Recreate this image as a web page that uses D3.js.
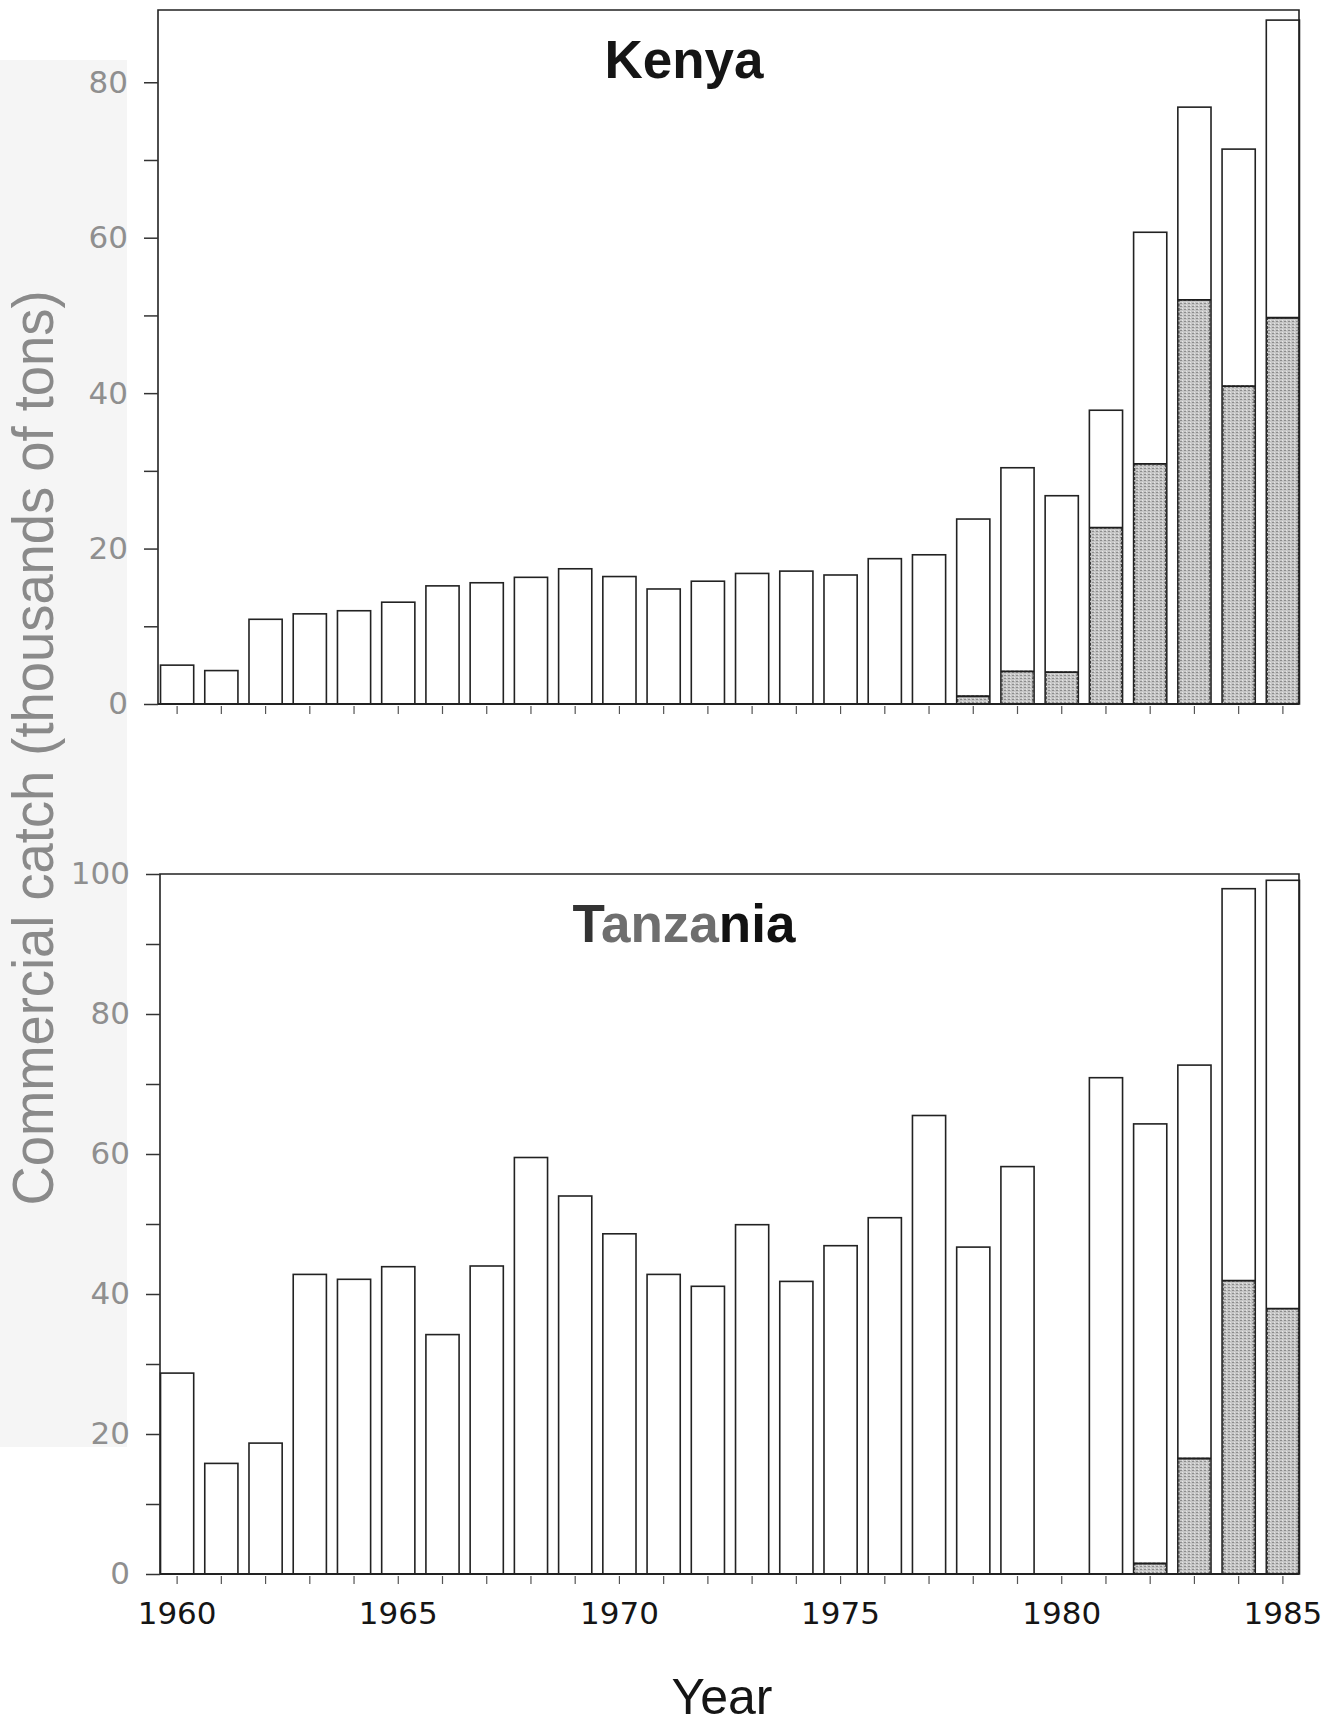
<!DOCTYPE html>
<html>
<head>
<meta charset="utf-8">
<script src="https://cdn.jsdelivr.net/npm/d3@7"></script>
<style>
body { margin: 0; background: #fff; }
svg { display: block; }
</style>
</head>
<body>
<div id="chart"></div>
<script>
// values, thousands of tons
var years = [1960, 1961, 1962, 1963, 1964, 1965, 1966, 1967, 1968, 1969, 1970, 1971, 1972,
	1973, 1974, 1975, 1976, 1977, 1978, 1979, 1980, 1981, 1982, 1983, 1984, 1985];
var kenyaTotal = [5.0, 4.3, 10.9, 11.6, 12.0, 13.1, 15.2, 15.6, 16.3, 17.4, 16.4, 14.8, 15.8,
	16.8, 17.1, 16.6, 18.7, 19.2, 23.8, 30.4, 26.8, 37.8, 60.7, 76.8, 71.4, 88.0];
var kenyaShaded = [0, 0, 0, 0, 0, 0, 0, 0, 0, 0, 0, 0, 0,
	0, 0, 0, 0, 0, 1.0, 4.2, 4.1, 22.7, 30.9, 52.0, 40.9, 49.7];
var tanzaniaTotal = [28.7, 15.8, 18.7, 42.8, 42.1, 43.9, 34.2, 44.0, 59.5, 54.0, 48.6, 42.8, 41.1,
	49.9, 41.8, 46.9, 50.9, 65.5, 46.7, 58.2, 0, 70.9, 64.3, 72.7, 97.9, 99.1];
var tanzaniaShaded = [0, 0, 0, 0, 0, 0, 0, 0, 0, 0, 0, 0, 0,
	0, 0, 0, 0, 0, 0, 0, 0, 0, 1.5, 16.5, 41.9, 37.9];
var kenyaTicks = [0, 10, 20, 30, 40, 50, 60, 70, 80];
var kenyaLabels = [0, 20, 40, 60, 80];
var tanzaniaTicks = [0, 10, 20, 30, 40, 50, 60, 70, 80, 90, 100];
var tanzaniaLabels = [0, 20, 40, 60, 80, 100];
var yearLabels = [1960, 1965, 1970, 1975, 1980, 1985];

var width = 1339, height = 1734;

var svg = d3.select('#chart').append('svg')
	.attr('width', width)
	.attr('height', height);

// stippled grey used for the lower part of the late bars
var pat = svg.append('defs').append('pattern')
	.attr('id', 'stipple')
	.attr('width', 4)
	.attr('height', 3)
	.attr('patternUnits', 'userSpaceOnUse');
pat.append('rect').attr('width', 4).attr('height', 3).attr('fill', '#c6c6c6');
pat.append('rect').attr('x', 0).attr('y', 0).attr('width', 2).attr('height', 1).attr('fill', '#8c8c8c');
pat.append('rect').attr('x', 2).attr('y', 2).attr('width', 1).attr('height', 1).attr('fill', '#e6e6e6');

// faint scan band behind the left labels
svg.append('rect')
	.attr('x', 0).attr('y', 60)
	.attr('width', 127).attr('height', 1387)
	.attr('fill', '#f5f5f5');

var x = d3.scaleBand()
	.domain(years)
	.range([155, 1305])
	.paddingInner(0.25)
	.paddingOuter(0.125);

function Panel(opts){
	var g, y;
	this.init = function(){
		y = d3.scaleLinear().domain([0, opts.yMax]).range([opts.bottom, opts.top]);
		g = svg.append('g');

		var bars = g.selectAll('g.bar')
		.data(years.map(function(d, i){
			return {year: d, total: opts.total[i], shaded: opts.shaded[i]};
		}))
		.enter().append('g')
		.attr('class', 'bar');

		bars.filter(function(d){ return d.total > 0; })
		.append('rect')
		.attr('x', function(d){ return x(d.year); })
		.attr('y', function(d){ return y(d.total); })
		.attr('width', x.bandwidth())
		.attr('height', function(d){ return y(0) - y(d.total); })
		.attr('fill', 'white')
		.attr('stroke', '#222')
		.attr('stroke-width', 1.6);

		var sh = bars.filter(function(d){ return d.shaded > 0; });
		sh.append('rect')
		.attr('x', function(d){ return x(d.year) + 1; })
		.attr('y', function(d){ return y(d.shaded); })
		.attr('width', x.bandwidth() - 2)
		.attr('height', function(d){ return y(0) - y(d.shaded); })
		.attr('fill', 'url(#stipple)')
		.attr('stroke', '#3a3a3a')
		.attr('stroke-width', 1.3)
		.attr('stroke-dasharray', '3,1.5');
		sh.append('line')
		.attr('x1', function(d){ return x(d.year); })
		.attr('x2', function(d){ return x(d.year) + x.bandwidth(); })
		.attr('y1', function(d){ return y(d.shaded); })
		.attr('y2', function(d){ return y(d.shaded); })
		.attr('stroke', '#1e1e1e')
		.attr('stroke-width', 1.8);

		// frame: left axis, top and right edge, baseline
		g.append('path')
		.attr('d', 'M' + opts.left + ',' + y(0) + 'V' + y(opts.yMax) + 'H' + opts.right + 'V' + y(0))
		.attr('fill', 'none')
		.attr('stroke', '#222')
		.attr('stroke-width', 1.6);
		g.append('line')
		.attr('x1', opts.left).attr('x2', opts.right)
		.attr('y1', y(0)).attr('y2', y(0))
		.attr('stroke', '#222')
		.attr('stroke-width', 1.8);

		var yAxis = g.append('g')
		.attr('transform', 'translate(' + [opts.left, 0] + ')')
		.call(d3.axisLeft(y)
			.tickValues(opts.ticks)
			.tickSize(14)
			.tickPadding(16)
			.tickFormat(function(d){ return opts.labels.indexOf(d) >= 0 ? d : ''; }));
		yAxis.select('.domain').remove();
		yAxis.selectAll('line').attr('stroke', '#333').attr('stroke-width', 1.5);
		yAxis.selectAll('text')
		.attr('fill', '#8f8f8f')
		.style('font-family', '"DejaVu Sans", sans-serif')
		.style('font-size', '31px');

		var xAxis = g.append('g')
		.attr('transform', 'translate(' + [0, y(0) + 2] + ')')
		.call(d3.axisBottom(x)
			.tickSize(8)
			.tickPadding(18)
			.tickFormat(function(d){ return opts.showYears && yearLabels.indexOf(d) >= 0 ? d : ''; }));
		xAxis.select('.domain').remove();
		xAxis.selectAll('line').attr('stroke', '#555').attr('stroke-width', 1.2);
		xAxis.selectAll('text')
		.attr('fill', '#151515')
		.style('font-family', '"DejaVu Sans", sans-serif')
		.style('font-size', '31px');

		var title = g.append('text')
		.attr('x', 684)
		.attr('y', opts.titleY)
		.attr('text-anchor', 'middle')
		.style('font-family', '"Liberation Sans", Arial, sans-serif')
		.style('font-weight', 'bold')
		.style('font-size', '53px');
		opts.title.forEach(function(p){
			title.append('tspan').attr('fill', p[1]).text(p[0]);
		});
		return this;
	};
}

new Panel({
	total: kenyaTotal, shaded: kenyaShaded, ticks: kenyaTicks, labels: kenyaLabels,
	yMax: 89.3, top: 10, bottom: 704, left: 158, right: 1299,
	title: [['Kenya', '#151515']], titleY: 78, showYears: false
}).init();

new Panel({
	total: tanzaniaTotal, shaded: tanzaniaShaded, ticks: tanzaniaTicks, labels: tanzaniaLabels,
	yMax: 100, top: 874, bottom: 1574, left: 160, right: 1299,
	title: [['T', '#333'], ['anza', '#6e6e6e'], ['nia', '#111']], titleY: 942, showYears: true
}).init();

svg.append('text')
	.attr('transform', 'translate(53,748) rotate(-90)')
	.attr('text-anchor', 'middle')
	.attr('textLength', 915)
	.attr('lengthAdjust', 'spacingAndGlyphs')
	.attr('fill', '#8a8a8a')
	.style('font-family', '"Liberation Sans", Arial, sans-serif')
	.style('font-size', '57px')
	.text('Commercial catch (thousands of tons)');

svg.append('text')
	.attr('x', 722)
	.attr('y', 1714)
	.attr('text-anchor', 'middle')
	.attr('fill', '#151515')
	.style('font-family', '"Liberation Sans", Arial, sans-serif')
	.style('font-size', '50px')
	.text('Year');
</script>
</body>
</html>
